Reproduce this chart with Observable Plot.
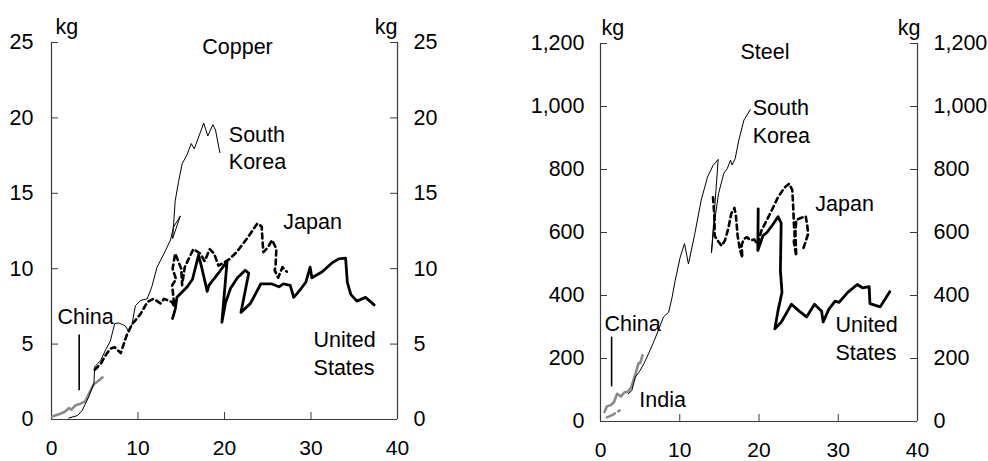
<!DOCTYPE html>
<html>
<head>
<meta charset="utf-8">
<script src="https://cdn.jsdelivr.net/npm/d3@7"></script>
<script src="https://cdn.jsdelivr.net/npm/@observablehq/plot@0.6"></script>
<style>
  html, body { margin: 0; padding: 0; background: #fff; }
  #wrap { display: flex; flex-direction: row; width: 988px; height: 461px; }
  #wrap > div { width: 494px; height: 461px; }
</style>
</head>
<body>
<div id="wrap"><div id="copper"></div><div id="steel"></div></div>
<script>
// ---- tick labels ----
const xTicks = [0, 10, 20, 30, 40];
const copperTicks = [0, 5, 10, 15, 20, 25];
const steelTicks = [0, 200, 400, 600, 800, 1000, 1200];

// ---- Copper (kg per capita vs GDP per capita) ----
const copperKorea = [[2.0,0.1],[3.0,0.26],[3.55,0.6],[4.3,1.5],[4.9,2.4],[5.0,3.5],[5.66,3.9],[6.24,4.6],[6.8,5.2],[7.3,6.35],[7.75,6.4],[8.2,6.3],[8.55,6.2],[8.94,5.8],[9.3,6.3],[9.7,7.55],[10.3,7.9],[11.06,8.0],[11.6,8.8],[12.2,10.1],[13.0,11.0],[13.76,11.9],[14.1,12.75],[14.9,13.5],[14.0,12.0],[14.3,14.5],[14.7,15.8],[15.1,16.95],[15.7,17.6],[16.15,18.3],[16.5,17.95],[17.15,18.95],[17.6,19.65],[18.07,18.8],[18.65,19.55],[18.96,19.2],[19.46,17.7]];
const copperJapan = [[5.0,3.3],[5.7,3.7],[6.3,4.3],[6.8,4.7],[7.3,4.8],[8.0,4.4],[8.7,5.6],[9.3,6.3],[10.3,7.0],[11.1,7.8],[11.8,8.0],[12.6,7.7],[13.0,8.0],[13.9,7.8],[14.2,7.5],[13.95,8.9],[14.4,9.3],[14.0,10.0],[14.3,11.0],[15.0,10.0],[15.1,8.9],[15.4,10.1],[16.4,11.3],[17.2,11.0],[17.7,10.5],[18.3,11.3],[18.8,11.0],[19.3,10.2],[20.5,10.6],[21.4,11.1],[22.6,12.0],[23.8,13.0],[24.3,12.8],[24.4,11.8],[24.5,11.1],[25.0,11.4],[25.5,11.9],[26.0,11.3],[25.9,10.2],[25.8,9.9],[26.2,9.4],[26.7,10.1],[27.2,9.8]];
const copperUS = [[14.0,6.7],[14.3,7.3],[14.5,8.1],[15.1,8.45],[15.7,8.8],[16.3,9.3],[17.0,10.9],[17.4,10.0],[18.0,8.5],[18.2,8.9],[18.6,9.2],[19.3,9.7],[20.3,10.5],[19.7,6.45],[20.1,7.7],[20.7,8.7],[21.5,9.4],[22.4,9.9],[22.8,9.7],[21.9,7.1],[23.0,7.7],[24.2,9.0],[25.4,9.0],[26.3,8.8],[26.8,9.0],[27.6,8.9],[28.0,8.1],[28.6,8.5],[29.4,9.1],[29.9,10.1],[30.1,9.4],[31.3,9.8],[32.45,10.4],[33.2,10.65],[34.0,10.7],[34.2,9.1],[34.6,8.3],[35.3,7.85],[36.3,8.1],[37.3,7.6]];
const copperChina = [[0.08,0.2],[0.85,0.35],[1.5,0.5],[2.0,0.75],[2.3,0.65],[2.8,0.95],[3.35,1.05],[3.9,1.2],[4.4,1.8],[4.9,2.35],[5.4,2.55],[5.9,2.8]];
const copperChinaLeader = [{x: 3.2, y1: 1.9, y2: 5.6}];

// ---- Steel ----
const steelKorea = [[3.5,88],[3.95,98],[4.4,141],[5.0,162],[5.5,185],[6.06,215],[6.7,252],[7.3,289],[7.95,332],[8.6,347],[9.0,390],[9.43,448],[10.06,522],[10.6,565],[11.1,500],[11.9,596],[12.7,702],[13.5,776],[14.2,813],[14.85,832],[14.0,535],[14.3,618],[14.9,724],[15.56,788],[16.0,803],[16.4,830],[16.6,814],[17.0,835],[17.45,893],[18.1,957],[18.9,990]];
const steelJapan = [[14.2,712],[14.4,640],[14.4,590],[14.85,572],[15.3,558],[15.7,575],[16.1,610],[16.5,660],[16.9,678],[17.1,650],[17.3,590],[17.6,545],[17.9,520],[17.8,560],[18.1,580],[18.5,585],[18.9,575],[19.4,578],[19.8,562],[20.3,606],[21.0,640],[21.7,675],[22.4,712],[23.2,742],[23.8,755],[24.2,735],[24.3,690],[24.4,630],[24.5,590],[24.4,570],[24.7,525],[24.6,600],[24.7,640],[25.2,645],[25.9,652],[26.1,620],[26.2,596],[25.9,572],[25.6,550]];
const steelUS = [[19.9,675],[19.85,543],[20.5,590],[21.0,600],[21.6,620],[22.4,650],[22.8,630],[22.7,480],[22.9,410],[22.4,352],[22.0,294],[22.8,315],[24.1,372],[25.0,352],[26.0,332],[27.0,372],[27.9,350],[28.1,316],[28.8,356],[29.6,382],[30.1,378],[31.2,410],[32.4,435],[33.1,424],[33.9,428],[34.0,374],[35.3,364],[36.5,412]];
const steelChina = [[0.5,30],[0.8,48],[1.3,52],[1.7,62],[2.1,88],[2.6,80],[3.0,92],[3.5,95],[3.9,110],[4.4,150],[4.8,185],[5.0,185],[5.3,210]];
const steelIndia = [[0.8,13],[1.6,22],[2.4,35]];
const steelChinaLeader = [{x: 1.4, y1: 110, y2: 268}];

// ---- label annotations ----
const copperLabels = [
  {x: 20.5, y: 18.1, text: "South\nKorea"},
  {x: 26.8, y: 13.2, text: "Japan"},
  {x: 30.3, y: 4.48, text: "United\nStates"},
  {x: 0.7, y: 6.9, text: "China"}
];
const steelLabels = [
  {x: 19.2, y: 956, text: "South\nKorea"},
  {x: 27.1, y: 697, text: "Japan"},
  {x: 29.65, y: 269, text: "United\nStates"},
  {x: 0.5, y: 315, text: "China"},
  {x: 4.9, y: 76, text: "India"}
];

const FONT = "'Liberation Sans', Arial, Helvetica, sans-serif";
const AXIS = "#3a3a3a";
const GRAY = "#8a8a8a";

function panel(cfg) {
  const W = 494, H = 461;
  const fw = W - cfg.ml - cfg.mr, fh = H - cfg.mt - cfg.mb;
  const pt = d => ({x: d[0], y: d[1]});
  const marks = [
    Plot.axisX(xTicks, {tickSize: 0, tickPadding: 21, label: null, fontSize: 21, tickFormat: d => String(d)}),
    Plot.axisY(cfg.ticks, {anchor: "left", tickSize: 0, tickPadding: cfg.padL, label: null, tickFormat: d3.format(",")}),
    Plot.axisY(cfg.ticks, {anchor: "right", tickSize: 0, tickPadding: cfg.padR, label: null, tickFormat: d3.format(",")}),
    Plot.ruleX([0, 40], {stroke: AXIS, strokeWidth: 1.2}),
    Plot.ruleY([0], {stroke: AXIS, strokeWidth: 1.2}),
    Plot.tickY(cfg.ticks, {y: d => d, insetRight: fw - 7, stroke: AXIS}),
    Plot.tickY(cfg.ticks, {y: d => d, insetLeft: fw - 7, stroke: AXIS}),
    Plot.tickX(xTicks.slice(1, -1), {x: d => d, insetTop: fh - 7, stroke: AXIS}),
    Plot.text(["kg"], {frameAnchor: "top-left", dx: cfg.kgL, dy: -24, textAnchor: "start"}),
    Plot.text(["kg"], {frameAnchor: "top-right", dx: cfg.kgR, dy: -24, textAnchor: "end"}),
    Plot.text([cfg.title], {frameAnchor: "top", dx: cfg.tdx, dy: cfg.tdy}),
    ...cfg.lines.map(s => Plot.line(s.data.map(pt), {x: "x", y: "y", stroke: s.stroke, strokeWidth: s.width, strokeDasharray: s.dash, strokeLinejoin: "round"})),
    Plot.ruleX(cfg.leader, {x: "x", y1: "y1", y2: "y2", stroke: "#000", strokeWidth: 1.6}),
    Plot.text(cfg.labels, {x: "x", y: "y", text: "text", textAnchor: "start", lineHeight: 1.3, fill: "#000"})
  ];
  return Plot.plot({
    width: W, height: H,
    marginLeft: cfg.ml, marginRight: cfg.mr, marginTop: cfg.mt, marginBottom: cfg.mb,
    x: {domain: [0, 40]},
    y: {domain: cfg.ydomain},
    style: {fontFamily: FONT, fontSize: "21.5px", color: "#000", background: "#fff", overflow: "visible"},
    marks
  });
}

document.getElementById("copper").appendChild(panel({
  ml: 51, mr: 97, mt: 42, mb: 42, padL: 18, padR: 16,
  kgL: 4, kgR: 0, title: "Copper", tdx: 13, tdy: -4,
  ticks: copperTicks, ydomain: [0, 25],
  lines: [
    {data: copperChina, stroke: GRAY, width: 2.6},
    {data: copperKorea, stroke: "#000", width: 1},
    {data: copperJapan, stroke: "#000", width: 2.6, dash: "5,4"},
    {data: copperUS, stroke: "#000", width: 2.8}
  ],
  leader: copperChinaLeader,
  labels: copperLabels
}));

document.getElementById("steel").appendChild(panel({
  ml: 106, mr: 71, mt: 43, mb: 40, padL: 16, padR: 16,
  kgL: 1, kgR: 3, title: "Steel", tdx: 6, tdy: 0,
  ticks: steelTicks, ydomain: [0, 1200],
  lines: [
    {data: steelChina, stroke: GRAY, width: 2.6},
    {data: steelIndia, stroke: GRAY, width: 2.6, dash: "9,4"},
    {data: steelKorea, stroke: "#000", width: 1},
    {data: steelJapan, stroke: "#000", width: 2.6, dash: "5,4"},
    {data: steelUS, stroke: "#000", width: 2.8}
  ],
  leader: steelChinaLeader,
  labels: steelLabels
}));
</script>
</body>
</html>
